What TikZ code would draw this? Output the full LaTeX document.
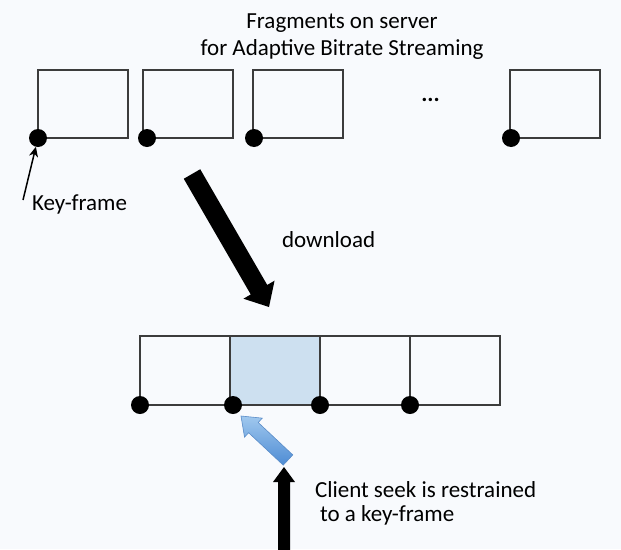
\documentclass[tikz,border=0pt]{standalone}
\usepackage{fontspec}
\setmainfont{Carlito}
\usetikzlibrary{calc,arrows.meta}
\definecolor{bgc}{RGB}{248,250,253}
\definecolor{boxline}{RGB}{60,60,60}
\definecolor{selfill}{RGB}{205,224,240}
\definecolor{arrlight}{RGB}{160,200,238}
\definecolor{arrdark}{RGB}{78,140,212}
\definecolor{arredge}{RGB}{90,140,200}
\newcommand\fatarrow[6]{%
  \coordinate (fab) at ($(#2)!#3!(#1)$);
  \path[#6] ($(#1)!#4!90:(#2)$) -- ($(fab)!#4!90:(#2)$) -- ($(fab)!#5!90:(#2)$) -- (#2)
    -- ($(fab)!#5!-90:(#2)$) -- ($(fab)!#4!-90:(#2)$) -- ($(#1)!#4!-90:(#2)$) -- cycle;}
\begin{document}
\begin{tikzpicture}[x=1pt,y=-1pt,
  frag/.style={draw=boxline,line width=1.2pt,minimum width=90pt,minimum height=68pt,inner sep=0pt,outer sep=0pt},
  seg/.style={frag,minimum height=69pt},
  kdot/.style={circle,fill=black,minimum size=18pt,inner sep=0pt,outer sep=0pt},
  lbl/.style={font=\fontsize{23}{27}\selectfont,inner sep=0pt,outer sep=0pt}]
\useasboundingbox (0,0) rectangle (621,549);
\fill[bgc] (0,0) rectangle (621,549);
% title
\node[lbl,anchor=base] (t1) at (342,28) {Fragments on server};
\node[lbl,anchor=base] (t2) at (342,55) {for Adaptive Bitrate Streaming};
% top fragments
\node[frag] (b1) at (83,104) {};
\node[frag] (b2) at (188,104) {};
\node[frag] (b3) at (298,104) {};
\node[frag] (b4) at (555,104) {};
\node[lbl,anchor=base,font=\bfseries\fontsize{23}{27}\selectfont] (dots) at (430.5,101) {...};
\node[kdot] (k1) at (b1.south west) {};
\node[kdot] (k2) at ($(b2.south west)+(4,0)$) {};
\node[kdot] (k3) at ($(b3.south west)+(1,0)$) {};
\node[kdot] (k4) at ($(b4.south west)+(1,0)$) {};
% key-frame label
\node[lbl,anchor=base west] (kf) at (32,210) {Key-frame};
\coordinate (kft) at (23,200);
\draw[line width=1.5pt,-{Stealth[length=10pt,width=9pt,inset=3pt]}] (kft) -- (k1);
% download arrow
\coordinate (dlT) at (192,174);
\coordinate (dlH) at (269,307);
\fatarrow{dlT}{dlH}{20pt}{9.5pt}{18pt}{fill=black}
\node[lbl,anchor=base west] (dl) at (282,247) {download};
% downloaded segments
\node[seg] (c1) at (185,370.5) {};
\node[seg,fill=selfill] (c2) at (275,370.5) {};
\node[seg] (c3) at (365,370.5) {};
\node[seg] (c4) at (455,370.5) {};
\node[kdot] (d1) at (c1.south west) {};
\node[kdot] (d2) at ($(c2.south west)+(3,0)$) {};
\node[kdot] (d3) at (c3.south west) {};
\node[kdot] (d4) at (c4.south west) {};
% seek arrows
\coordinate (bT) at (288,460);
\coordinate (bH) at (241,416);
\fatarrow{bT}{bH}{17pt}{7pt}{13pt}{draw=arredge,line width=0.6pt,top color=arrlight,bottom color=arrdark}
\coordinate (uT) at (284,556);
\coordinate (uH) at (284,467);
\fatarrow{uT}{uH}{15pt}{6pt}{11pt}{fill=black}
\node[lbl,anchor=base west] (cs1) at (315,497) {Client seek is restrained};
\node[lbl,anchor=base west] (cs2) at (320,521) {to a key-frame};
\end{tikzpicture}
\end{document}
